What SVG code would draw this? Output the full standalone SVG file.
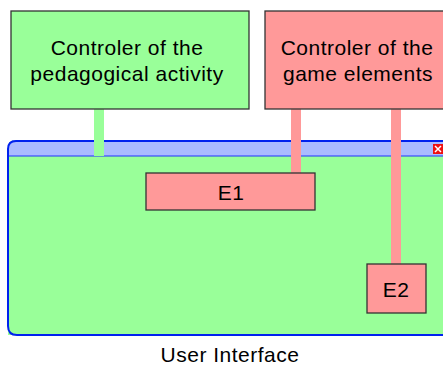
<svg xmlns="http://www.w3.org/2000/svg" width="443" height="367" viewBox="0 0 443 367">
<style>
text{font-family:"Liberation Sans",Arial,sans-serif;font-size:21px;letter-spacing:0.5px;fill:#000;text-anchor:middle}
.g{fill:#99ff99;stroke:#333;stroke-width:1.3}
.r{fill:#ff9999;stroke:#333;stroke-width:1.3}
</style>
<rect width="443" height="367" fill="#fff"/>
<g id="user-interface">
<path d="M8,335 V148 Q8,140 16,140 H450 V335 Z" fill="#99ff99"/>
<path d="M8,156 V148 Q8,140 16,140 H450 V156 Z" fill="#aabbff"/>
<line x1="8" y1="156" x2="450" y2="156" stroke="#2233ff" stroke-width="1.2"/>
<path d="M450,335 H17 Q8,335 8,326 V149 Q8,141 16,141 H450" fill="none" stroke="#0022ee" stroke-width="2"/>
<rect x="433" y="144" width="10" height="10" fill="#ee1111"/>
<path d="M435,146 L441,152 M441,146 L435,152" stroke="#fff" stroke-width="1.5"/>
<text x="230" y="362">User Interface</text>
</g>
<g id="connectors">
<rect x="94" y="109" width="10" height="47" fill="#99ff99"/>
<rect x="291" y="109" width="10" height="64" fill="#ff9999"/>
<rect x="391" y="109" width="10" height="155" fill="#ff9999"/>
</g>
<g id="ctrl-pedagogical">
<rect class="g" x="11" y="11" width="238" height="98"/>
<text x="127" y="55">Controler of the</text>
<text x="127" y="81">pedagogical activity</text>
</g>
<g id="ctrl-game">
<rect class="r" x="265" y="11" width="190" height="98"/>
<text x="357" y="55">Controler of the</text>
<text x="358" y="81">game elements</text>
</g>
<g id="E1">
<rect class="r" x="146" y="173" width="169" height="37"/>
<text x="231" y="200">E1</text>
</g>
<g id="E2">
<rect class="r" x="367" y="264" width="59" height="49"/>
<text x="396" y="297">E2</text>
</g>
</svg>
